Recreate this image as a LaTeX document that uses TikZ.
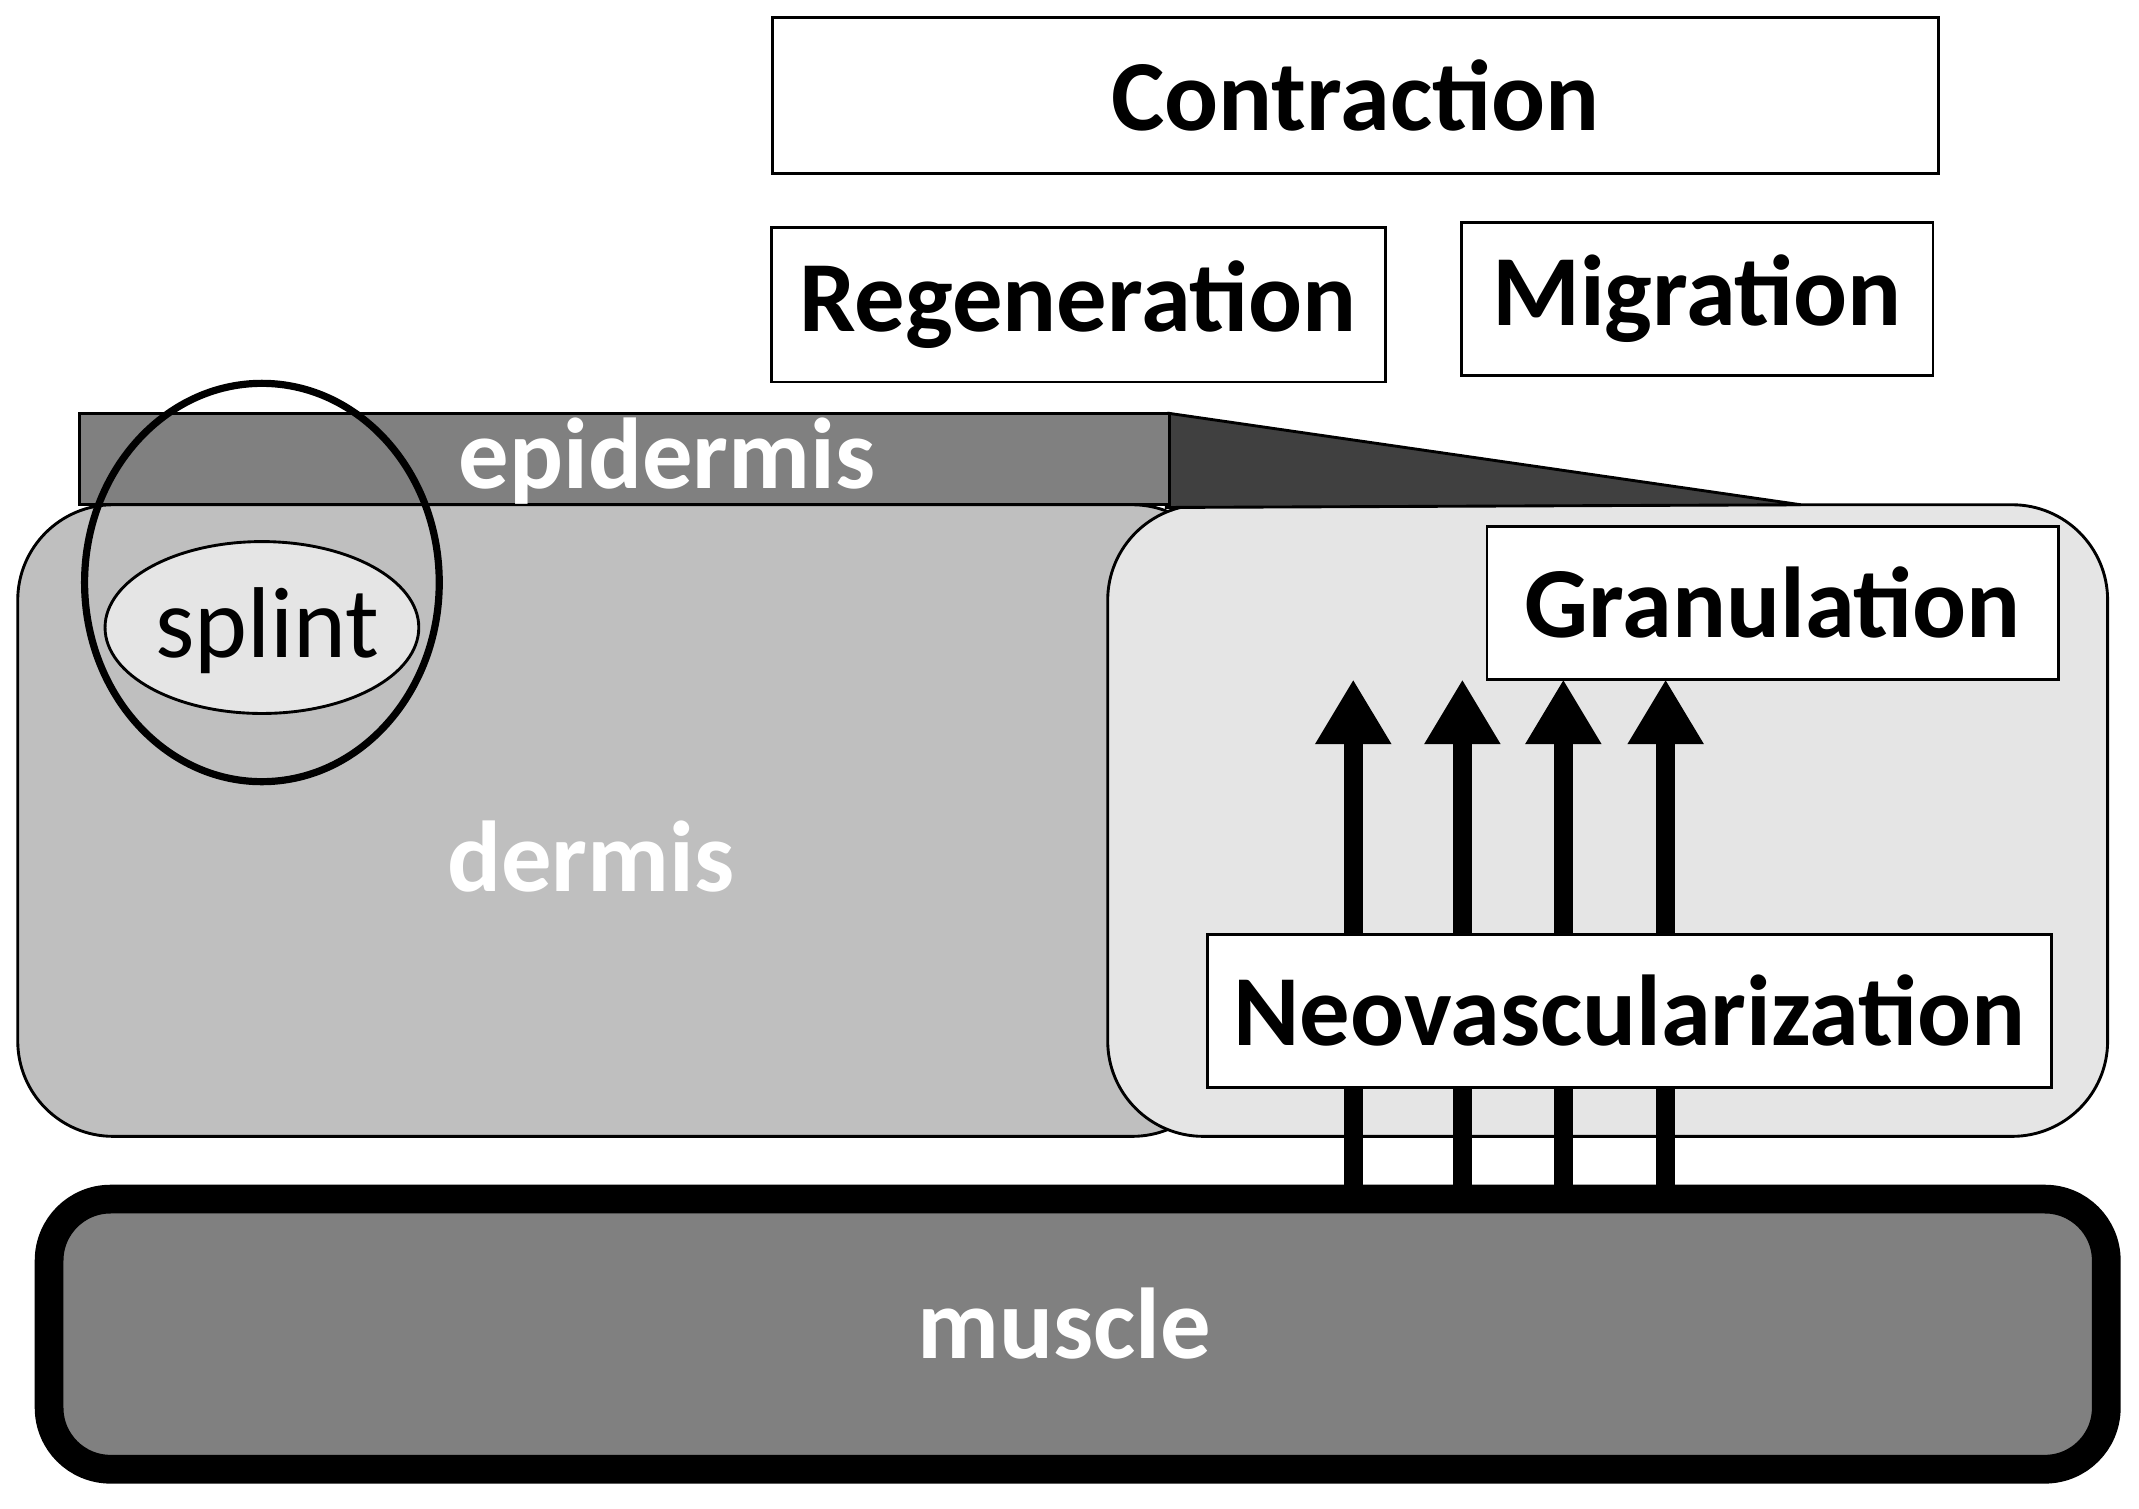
\documentclass[tikz,border=0pt]{standalone}
\usepackage{fontspec}
\setmainfont{Carlito}
\usetikzlibrary{arrows.meta}
\begin{document}
\begin{tikzpicture}[x=0.02cm,y=-0.02cm,
 box/.style={draw=black,line width=1.2pt,fill=white,font=\fontsize{42}{48}\selectfont\bfseries},
 wlab/.style={text=white,font=\fontsize{42}{48}\selectfont\bfseries},
 vessel/.style={line width=8pt,-{Triangle[width=1.05cm,length=0.95cm]}}]
\useasboundingbox (0,0) rectangle (1568,1106);
\draw[line width=1.2pt,fill=black!25,rounded corners=1.4cm] (13,370) rectangle (900,833);
\draw[line width=1.2pt,fill=black!10,rounded corners=1.4cm] (812,370) rectangle (1545,833);
\draw[line width=1.2pt,fill=black!75] (857,303) -- (1320,370) -- (855,372) -- cycle;
\draw[line width=1.2pt,fill=black!50] (58,303) rectangle (857,370);
\node[wlab] (epi) at (489,338) {epidermis};
\node[wlab] (derm) at (433,628) {dermis};
\draw[line width=1.2pt,fill=black!10] (192,460) ellipse [x radius=115,y radius=63];
\node[font=\fontsize{42}{48}\selectfont] (splint) at (196,462) {splint};
\draw[line width=3pt] (192,427) ellipse [x radius=130,y radius=146];
\draw[line width=12pt,fill=black!50,rounded corners=0.9cm] (36,879) rectangle (1544,1077);
\node[wlab] (muscle) at (780,970) {muscle};
\node[box,minimum width=17.1cm,minimum height=2.28cm] (con) at (993.5,70) {Contraction};
\node[box,minimum width=9cm,minimum height=2.26cm] (reg) at (790.5,223.5) {Regeneration};
\node[box,minimum width=6.92cm,minimum height=2.24cm] (mig) at (1244,219) {Migration};
\node[box,minimum width=8.38cm,minimum height=2.24cm] (gran) at (1299.5,442) {Granulation};
\coordinate (a1) at (992,870); \coordinate (b1) at (992,498);
\coordinate (a2) at (1072,870); \coordinate (b2) at (1072,498);
\coordinate (a3) at (1146,870); \coordinate (b3) at (1146,498);
\coordinate (a4) at (1221,870); \coordinate (b4) at (1221,498);
\foreach \i in {1,...,4} \draw[vessel] (a\i) -- (b\i);
\node[box,minimum width=12.38cm,minimum height=2.24cm] (neo) at (1194.5,741) {Neovascularization};
\end{tikzpicture}
\end{document}
